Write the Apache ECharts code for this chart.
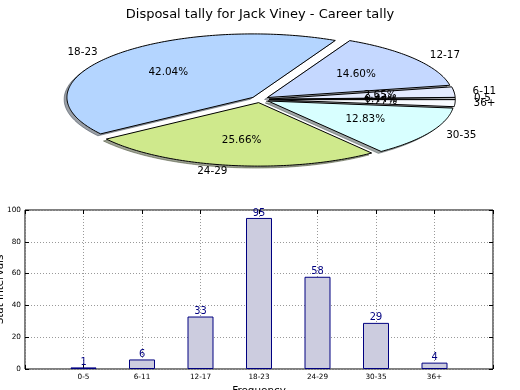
<!DOCTYPE html>
<html><head><meta charset="utf-8">
<script src="https://cdn.jsdelivr.net/npm/echarts@6/dist/echarts.min.js"></script>
<style>html,body{margin:0;padding:0;background:#fff}#c{width:520px;height:390px}</style>
</head><body><div id="c"></div>
<script>
// ---- data ----
const titleText = 'Disposal tally for Jack Viney - Career tally';
const categories = ['0-5', '6-11', '12-17', '18-23', '24-29', '30-35', '36+'];
const tally = [1, 6, 33, 95, 58, 29, 4];
const yTicks = [0, 20, 40, 60, 80, 100];
const sliceColors = ['#f6f8ff', '#e4ebff', '#c5d8ff', '#b4d5ff', '#cfe98c', '#d8ffff', '#f8fbff'];
const explode = [0.05, 0.05, 0.05, 0.05, 0.05, 0.05, 0.05];

const FONT = '"DejaVu Sans", Verdana, sans-serif';
const total = tally.reduce((a, b) => a + b, 0);
const startFrac = [];
let acc = 0;
tally.forEach(v => { startFrac.push(acc); acc += v / total; });

function renderWedge(params, api) {
  const i = params.dataIndex;
  const v = api.value(1);
  const t1 = 2 * Math.PI * startFrac[i];
  const t2 = 2 * Math.PI * (startFrac[i] + v / total);
  const tm = (t1 + t2) / 2;
  const ox = explode[i] * Math.cos(tm), oy = explode[i] * Math.sin(tm);
  const n = Math.max(2, Math.ceil((t2 - t1) / (Math.PI / 180)));
  function pts(dx, dy) {
    const p = [api.coord([ox + dx, oy + dy])];
    for (let k = 0; k <= n; k++) {
      const t = t1 + (t2 - t1) * k / n;
      p.push(api.coord([ox + dx + Math.cos(t), oy + dy + Math.sin(t)]));
    }
    return p;
  }
  const c = echarts.color.parse(sliceColors[i]);
  const shadowCol = 'rgba(' + Math.round(c[0] * 0.3) + ',' + Math.round(c[1] * 0.3) + ',' + Math.round(c[2] * 0.3) + ',0.5)';
  const lx = ox + 1.1 * Math.cos(tm), ly = oy + 1.1 * Math.sin(tm);
  const lp = api.coord([lx, ly]);
  const pp = api.coord([ox + 0.6 * Math.cos(tm), oy + 0.6 * Math.sin(tm)]);
  const pct = (100 * v / total).toFixed(2) + '%';
  return {
    type: 'group',
    children: [
      { type: 'polygon', shape: { points: pts(-0.015, -0.03) }, style: { fill: shadowCol, stroke: shadowCol, lineWidth: 1 }, z2: 1 },
      { type: 'polygon', shape: { points: pts(0, 0) }, style: { fill: sliceColors[i], stroke: '#000', lineWidth: 1 }, z2: 5 },
      { type: 'text', x: lp[0], y: lp[1], style: { text: categories[i], fill: '#000', fontSize: 10.4, fontFamily: FONT, align: lx > 0 ? 'left' : 'right', verticalAlign: 'middle' }, z2: 10 },
      { type: 'text', x: pp[0], y: pp[1], style: { text: pct, fill: '#000', fontSize: 10.4, fontFamily: FONT, align: 'center', verticalAlign: 'middle' }, z2: 10 }
    ]
  };
}

const chart = echarts.init(document.getElementById('c'), null, { renderer: 'canvas' });
const tick = { inside: true, length: 4, lineStyle: { color: '#000' } };
chart.setOption({
  animation: false,
  backgroundColor: '#fff',
  title: { text: titleText, left: 'center', top: 3, textStyle: { fontSize: 13, fontWeight: 'normal', color: '#000', fontFamily: FONT } },
  grid: [
    { left: 25, right: 27, top: 210, bottom: 21, show: true, borderColor: '#000', borderWidth: 1, containLabel: false, outerBoundsMode: 'none' },
    { left: 27.5, right: 27.5, top: 20.1, height: 158.75, show: false, outerBoundsMode: 'none' }
  ],
  xAxis: [
    { type: 'value', gridIndex: 0, min: -1, max: 7, interval: 1,
      name: 'Frequency', nameLocation: 'middle', nameGap: 17,
      nameTextStyle: { fontSize: 10.4, fontFamily: FONT, color: '#000' },
      axisLine: { show: false, onZero: false },
      axisTick: tick,
      axisLabel: { fontSize: 7.3, fontFamily: FONT, color: '#000', margin: 5, showMinLabel: true, showMaxLabel: true,
        formatter: v => (categories[v] !== undefined ? categories[v] : '') },
      splitLine: { show: true, lineStyle: { color: '#999', type: [1, 2], width: 1 } } },
    { type: 'value', gridIndex: 0, min: -1, max: 7, interval: 1, position: 'top',
      axisLine: { show: false, onZero: false }, axisTick: tick,
      axisLabel: { show: false }, splitLine: { show: false } },
    { type: 'value', gridIndex: 1, min: -1.25, max: 1.25, show: false }
  ],
  yAxis: [
    { type: 'value', gridIndex: 0, min: yTicks[0], max: yTicks[yTicks.length - 1], interval: yTicks[1] - yTicks[0],
      name: 'Stat Intervals', nameLocation: 'middle', nameGap: 20, nameMoveOverlap: false,
      nameTextStyle: { fontSize: 10.4, fontFamily: FONT, color: '#000' },
      axisLine: { show: false, onZero: false },
      axisTick: tick,
      axisLabel: { fontSize: 7.3, fontFamily: FONT, color: '#000', margin: 4 },
      splitLine: { show: true, lineStyle: { color: '#999', type: [1, 2], width: 1 } } },
    { type: 'value', gridIndex: 0, min: yTicks[0], max: yTicks[yTicks.length - 1], interval: yTicks[1] - yTicks[0], position: 'right',
      axisLine: { show: false, onZero: false }, axisTick: tick,
      axisLabel: { show: false }, splitLine: { show: false } },
    { type: 'value', gridIndex: 1, min: -1.25, max: 1.25, show: false }
  ],
  series: [
    { type: 'bar', xAxisIndex: 0, yAxisIndex: 0, barWidth: 26,
      data: tally.map((v, i) => [i, v]),
      itemStyle: { color: '#ccccdf', borderColor: '#000080', borderWidth: 1 },
      label: { show: true, position: 'top', distance: 0, color: '#000080', fontSize: 9.8, fontFamily: FONT,
        formatter: p => String(p.value[1]) } },
    { type: 'custom', coordinateSystem: 'cartesian2d', xAxisIndex: 2, yAxisIndex: 2, clip: false,
      data: tally.map((v, i) => [i, v]),
      renderItem: renderWedge }
  ]
});
</script></body></html>
